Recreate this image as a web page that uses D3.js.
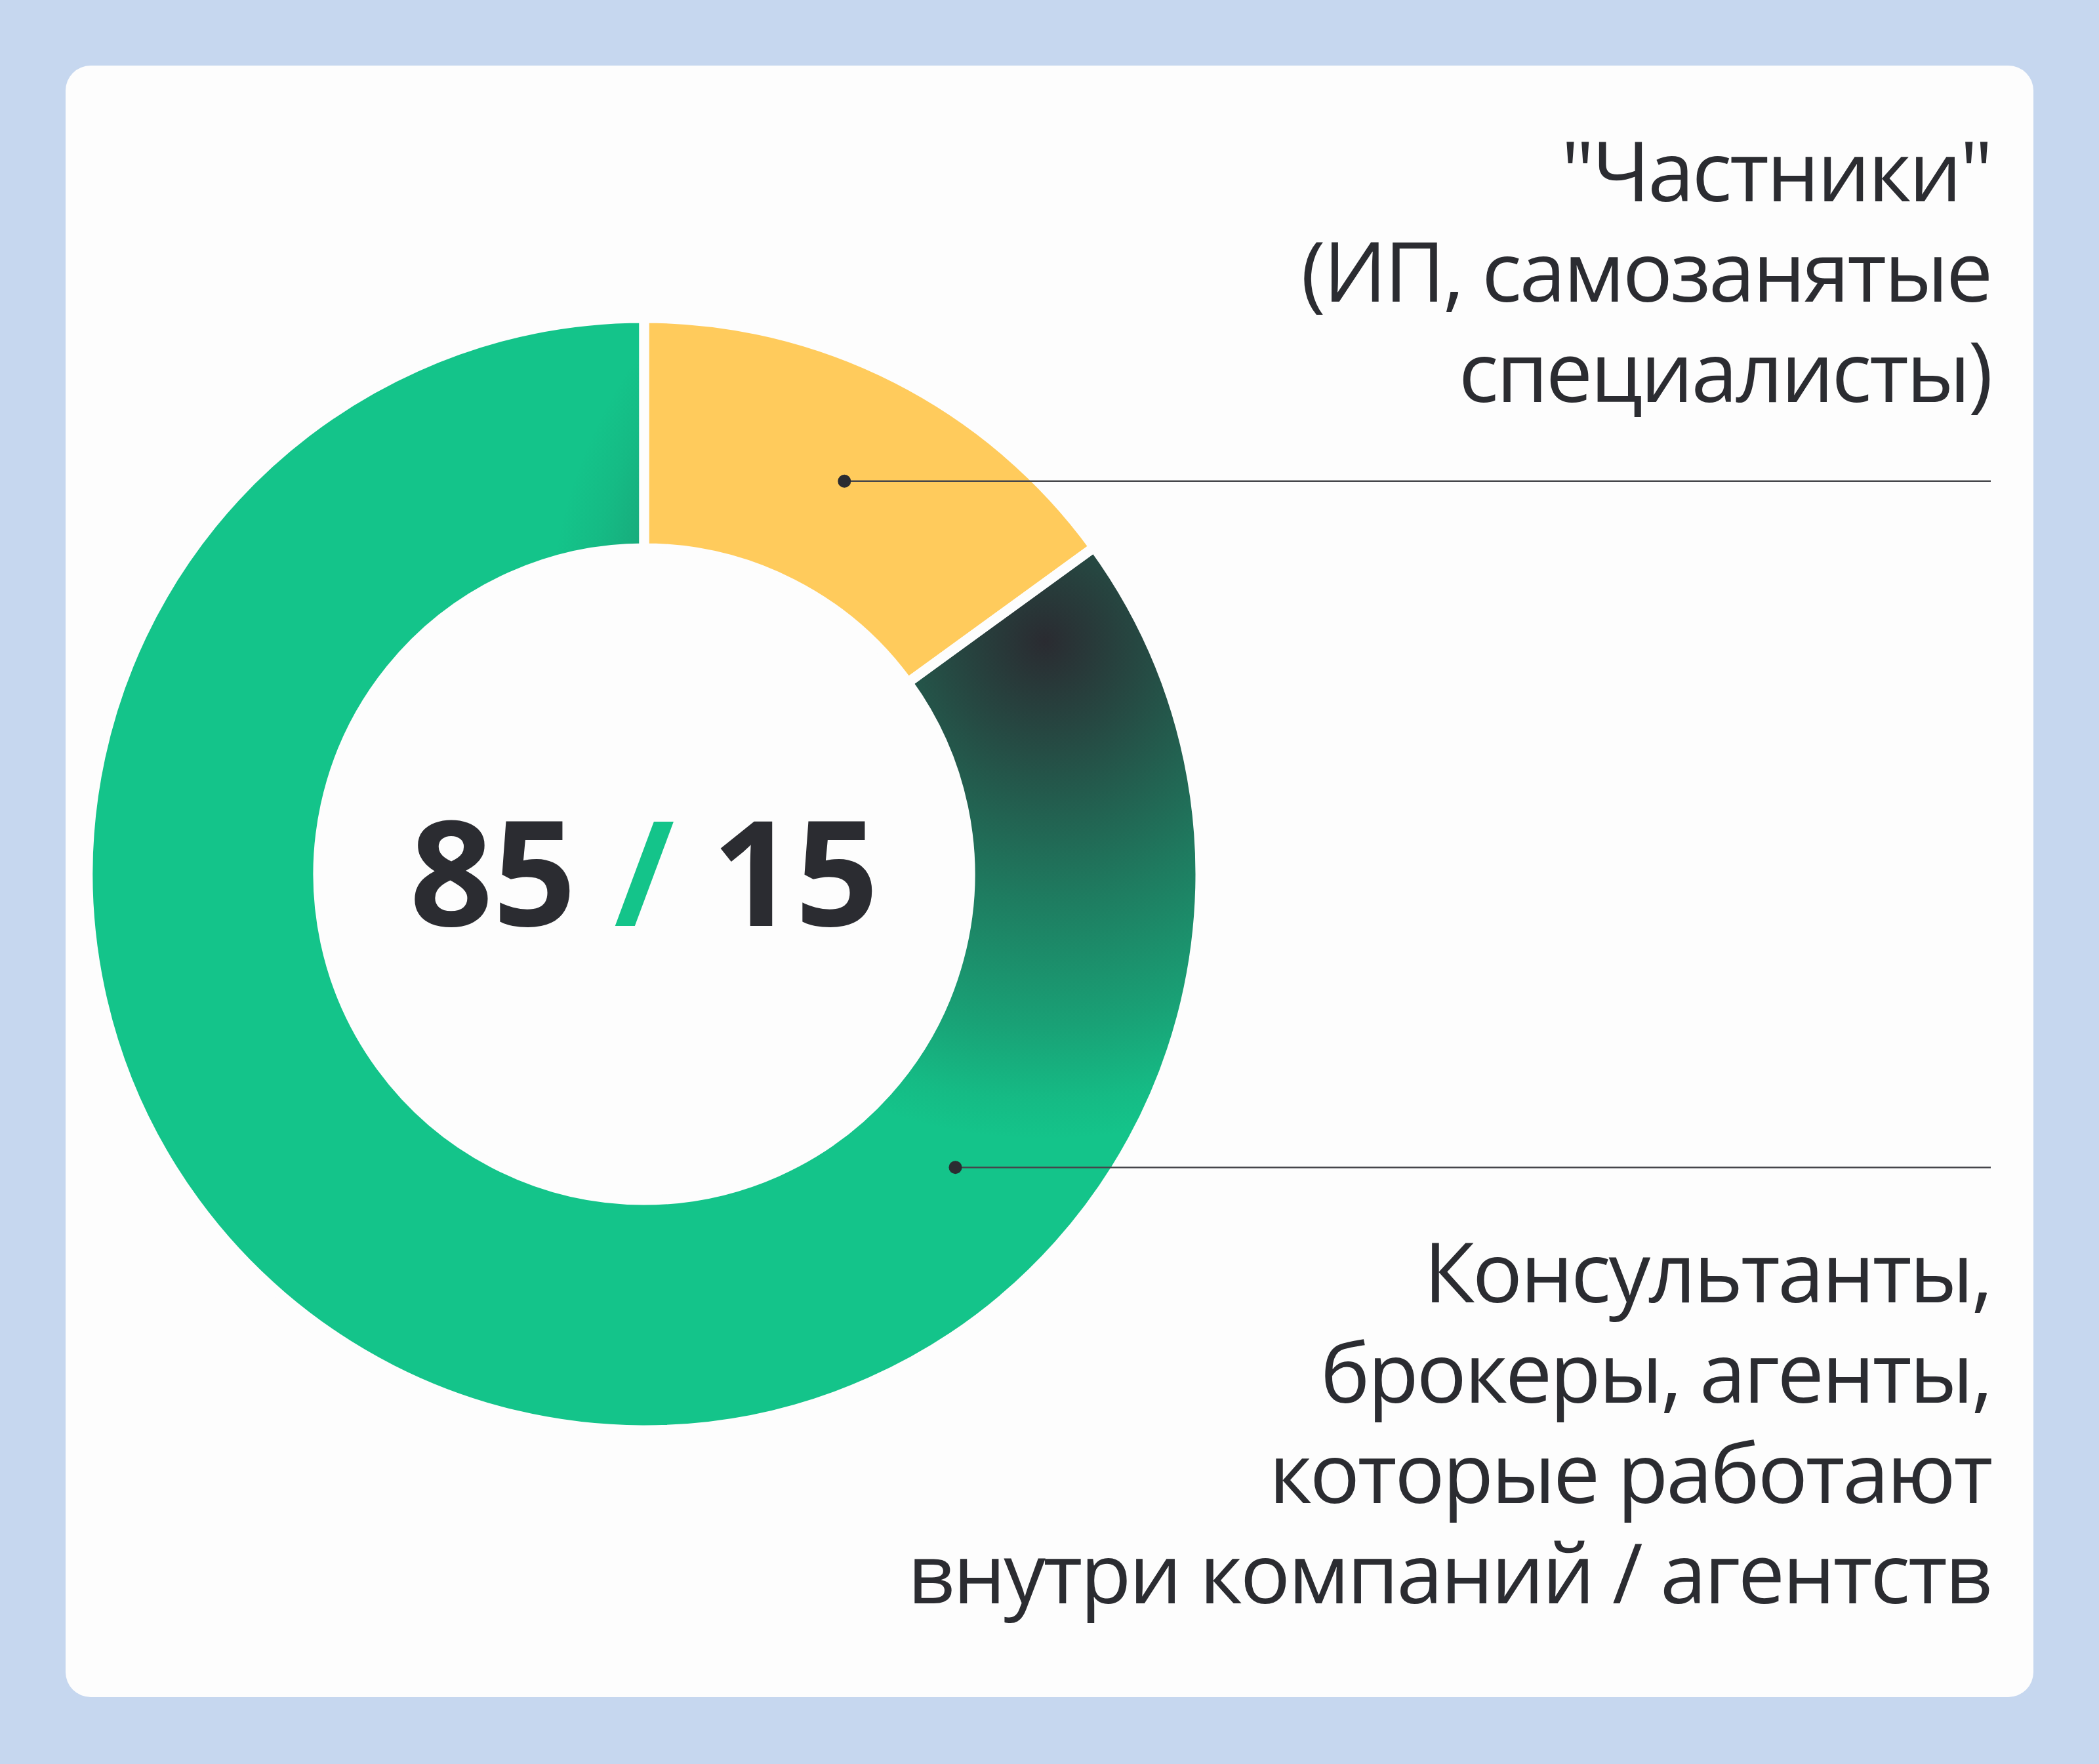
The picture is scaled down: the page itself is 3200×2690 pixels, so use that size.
<!DOCTYPE html>
<html>
<head>
<meta charset="utf-8">
<script src="https://cdn.jsdelivr.net/npm/d3@7"></script>
<style>
  html, body { margin: 0; padding: 0; background: #c6d7ef; }
  svg { display: block; }
</style>
</head>
<body>
<svg></svg>
<script>
// data
const categories = ["Частники", "Консультанты"];
const shares = [15, 85];
const colors = ["#ffcb5c", "#14c48a"];
const labelLines = [
    ["\"Частники\"", "(ИП, самозанятые", "специалисты)"],
    ["Консультанты,", "брокеры, агенты,", "которые работают", "внутри компаний / агентств"],
];
const centerParts = ["85", " / ", "15"];

let width = 3200,
    height = 2690;

let svg = d3.select("svg")
    .attr("width", width)
    .attr("height", height)
    .attr("viewBox", "0 0 " + width + " " + height);

const cx = 982,
    cy = 1333,
    outerR = 848,
    innerR = 497,
    textRight = 3035,
    lineH = 153,
    ink = "#2b2c31";

// card
svg.append("rect")
    .attr("x", 100)
    .attr("y", 100)
    .attr("width", 3000)
    .attr("height", 2488)
    .attr("rx", 38)
    .attr("fill", "#fdfdfd");

let defs = svg.append("defs");

// dark shading on the start of the big segment (page coords)
let grad = defs.append("radialGradient")
    .attr("id", "shade")
    .attr("gradientUnits", "userSpaceOnUse")
    .attr("cx", 1593)
    .attr("cy", 978)
    .attr("r", 760);
[[0, 1], [0.2, 0.8], [0.52, 0.47], [0.77, 0.23], [0.92, 0.06], [1, 0]].forEach(([o, a]) => {
    grad.append("stop")
        .attr("offset", o)
        .attr("stop-color", "#2a2b31")
        .attr("stop-opacity", a);
});

let pie = d3.pie().sort(null).value((d) => d);
let arcs = pie(shares);
let arc = d3.arc().innerRadius(innerR).outerRadius(outerR);

let g = svg.append("g").attr("transform", `translate(${cx},${cy})`);

g.selectAll("path.seg")
    .data(arcs)
    .enter()
    .append("path")
    .attr("class", "seg")
    .attr("d", arc)
    .attr("fill", (d, i) => colors[i]);

defs.append("clipPath")
    .attr("id", "bigClip")
    .append("path")
    .attr("transform", `translate(${cx},${cy})`)
    .attr("d", arc(arcs[1]));

svg.append("rect")
    .attr("clip-path", "url(#bigClip)")
    .attr("x", 0)
    .attr("y", 0)
    .attr("width", width)
    .attr("height", height)
    .attr("fill", "url(#shade)");

// white gaps between segments
svg.append("g")
    .attr("transform", `translate(${cx},${cy})`)
    .selectAll("path")
    .data(arcs)
    .enter()
    .append("path")
    .attr("d", arc)
    .attr("fill", "none")
    .attr("stroke", "#fdfdfd")
    .attr("stroke-width", 15)
    .attr("stroke-linejoin", "round");

// center text
let center = svg.append("text")
    .attr("x", cx)
    .attr("y", 1412)
    .attr("text-anchor", "middle")
    .attr("font-family", "Open Sans")
    .attr("font-weight", 700)
    .attr("font-size", 222)
    .attr("fill", ink)
    .attr("xml:space", "preserve")
    .style("white-space", "pre");
centerParts.forEach((t, i) => {
    center.append("tspan")
        .attr("fill", i == 1 ? colors[1] : ink)
        .text(t);
});

// leader anchors: small segment on its centroid, big one lower right
let anchors = [
    arc.centroid(arcs[0]),
    d3.pointRadial(133.3 * Math.PI / 180, 652),
];

anchors.forEach((p, i) => {
    let x = cx + p[0],
        y = cy + p[1];
    svg.append("line")
        .attr("x1", x)
        .attr("x2", textRight)
        .attr("y1", y)
        .attr("y2", y)
        .attr("stroke", "#45464b")
        .attr("stroke-width", 2.5);
    svg.append("circle")
        .attr("cx", x)
        .attr("cy", y)
        .attr("r", 10)
        .attr("fill", ink);

    let lines = labelLines[i];
    let firstBase = i == 0 ? y - 121 - (lines.length - 1) * lineH : y + 206;
    svg.append("g")
        .selectAll("text")
        .data(lines)
        .enter()
        .append("text")
        .attr("x", textRight)
        .attr("y", (d, j) => firstBase + j * lineH)
        .attr("text-anchor", "end")
        .attr("font-family", "Open Sans")
        .attr("font-size", 127)
        .attr("letter-spacing", -3.3)
        .attr("fill", ink)
        .text((d) => d);
});
</script>
</body>
</html>
